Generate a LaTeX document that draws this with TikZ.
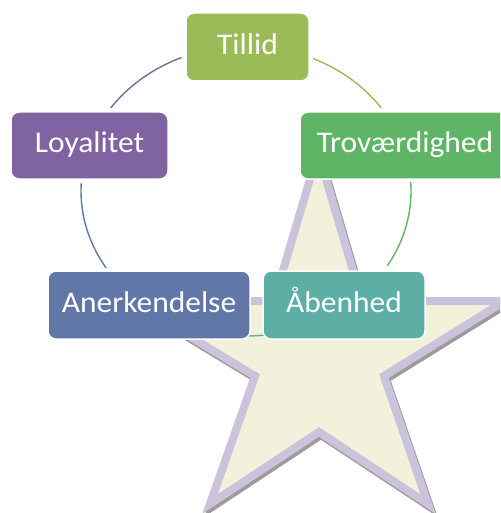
\documentclass[tikz,border=0pt]{standalone}
\usepackage{fontspec}
\setmainfont[FakeStretch=1.05]{Carlito}
\definecolor{cTil}{HTML}{9BBB59}
\definecolor{cLoy}{HTML}{8064A2}
\definecolor{cTro}{HTML}{5EB566}
\definecolor{cAab}{HTML}{5DAFA6}
\definecolor{cAne}{HTML}{6077A7}
\definecolor{starfill}{HTML}{F2F1DC}
\definecolor{starline}{HTML}{CBC2DC}
\definecolor{starshade}{HTML}{9C9C9C}
\tikzset{
  box/.style={draw=white, line width=1.5pt, rounded corners=8pt, text=white,
    font=\fontsize{30}{36}\selectfont, text height=22pt, text depth=7pt, inner sep=0pt},
  arcline/.style={line width=1.4pt, domain=#1, samples=40, variable=\t},
  starpath/.style={line width=8pt, line join=miter},
}
\begin{document}
\begin{tikzpicture}[x=1pt,y=-1pt]
\useasboundingbox (0,0) rectangle (500,513);
\clip (0,0) rectangle (500,513);
% star shadow and star
\draw[starpath, draw=starshade, shift={(2,3)}]
  (318,152) -- (362,301) -- (505,301) -- (384,376) -- (428,504) -- (319,432)
  -- (210,504) -- (255,376) -- (131,301) -- (274,301) -- cycle;
\draw[starpath, draw=starline, fill=starfill]
  (318,152) -- (362,301) -- (505,301) -- (384,376) -- (428,504) -- (319,432)
  -- (210,504) -- (255,376) -- (131,301) -- (274,301) -- cycle;
% cycle arcs
\draw[arcline=113:145, draw=cLoy] plot ({246+165*cos(\t)},{191-145*sin(\t)});
\draw[arcline=35:66, draw=cTil] plot ({246+165*cos(\t)},{191-145*sin(\t)});
\draw[arcline=-31:3.5, draw=cTro] plot ({246+165*cos(\t)},{191-145*sin(\t)});
\draw[arcline=255:290, draw=cAab] plot ({246+165*cos(\t)},{191-145*sin(\t)});
\draw[arcline=177:212, draw=cAne] plot ({246+165*cos(\t)},{191-145*sin(\t)});
% boxes
\node[box, fill=cTil, minimum width=123pt, minimum height=68pt] (til) at (247.5,47) {Tillid};
\node[box, fill=cLoy, minimum width=157pt, minimum height=67pt] (loy) at (89.5,145.5) {Loyalitet};
\node[box, fill=cTro, minimum width=210pt, minimum height=67pt] (tro) at (405,145.5) {Troværdighed};
\node[box, fill=cAne, minimum width=202pt, minimum height=68pt] (ane) at (149,305) {Anerkendelse};
\node[box, fill=cAab, minimum width=162pt, minimum height=68pt] (aab) at (344,305) {Åbenhed};
\end{tikzpicture}
\end{document}
